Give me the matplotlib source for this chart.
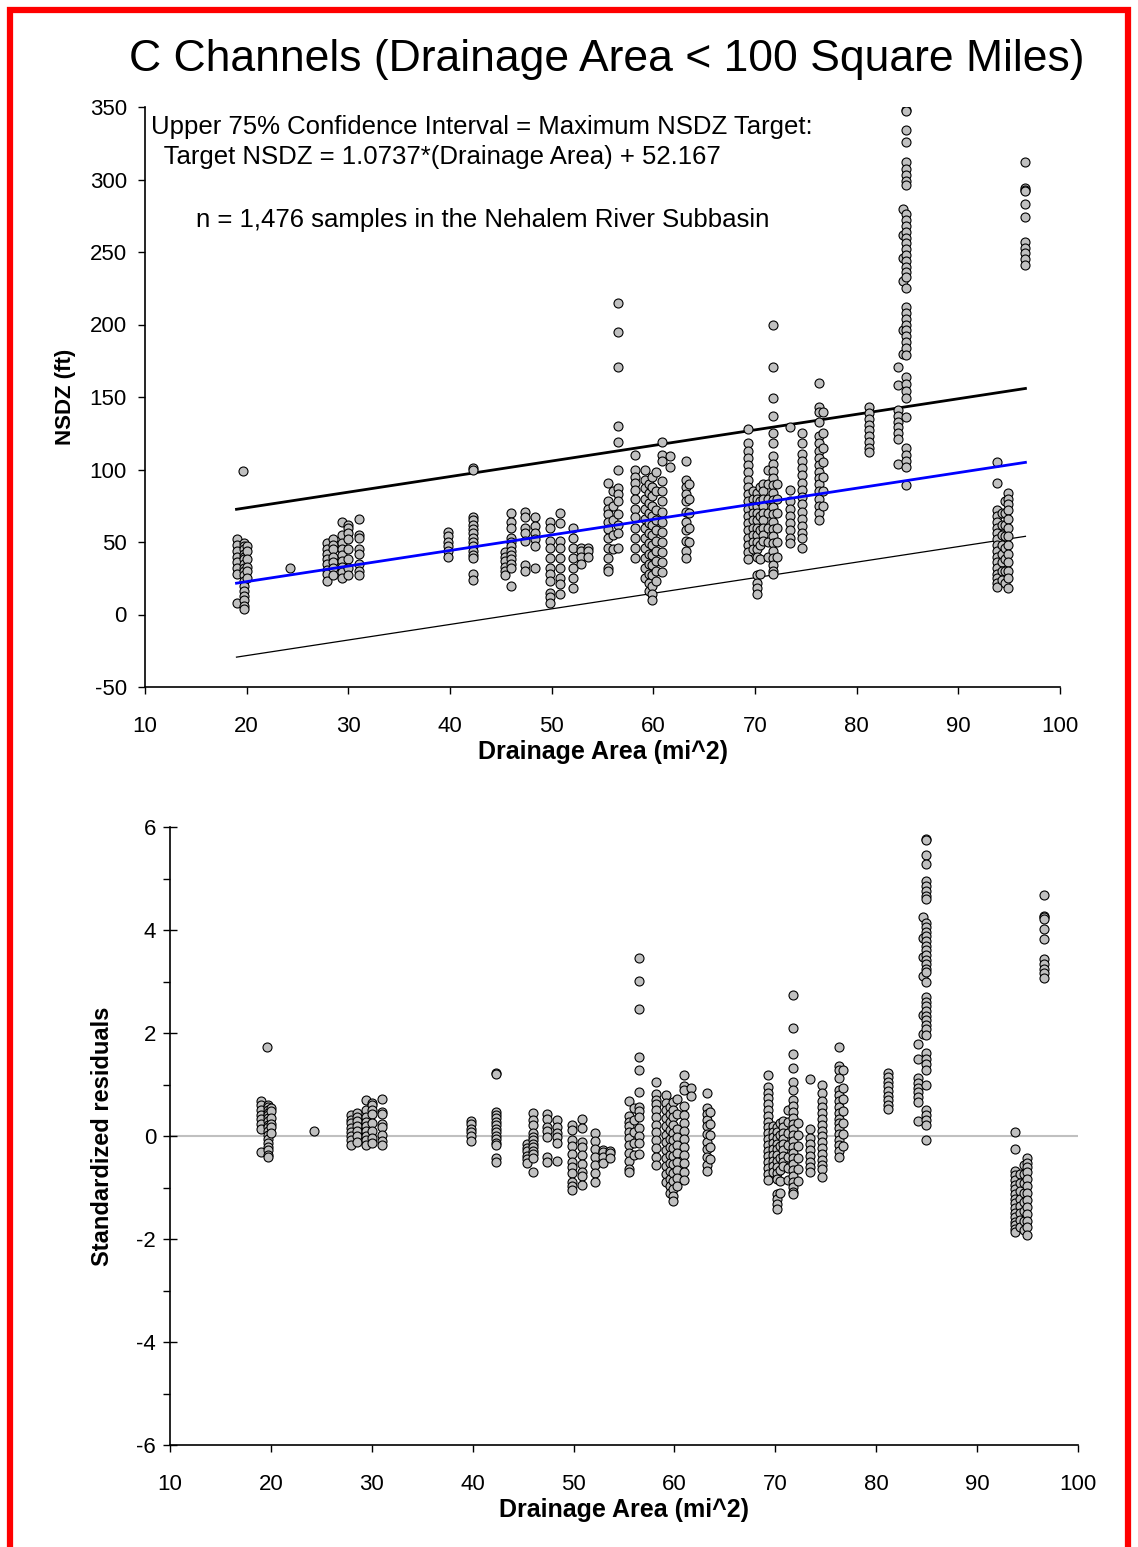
"""
NSDZ vs drainage area for C channels, with target line and standardized residuals.
"""

import numpy as np
import matplotlib
matplotlib.use("Agg")
import matplotlib.pyplot as plt
from matplotlib.patches import Rectangle
from matplotlib.ticker import MultipleLocator

plt.rcParams["font.family"] = ["Liberation Sans", "DejaVu Sans"]
plt.rcParams["axes.unicode_minus"] = False

# sampled reaches: drainage area (mi^2) and NSDZ readings (ft) at each
area_mi2 = [19.0, 19.7, 19.6, 20.0, 24.3, 27.9, 28.5, 29.4, 30.0, 31.0,
            39.8, 42.3, 45.4, 46.0, 47.4, 48.4, 49.8, 50.8, 52.1, 52.9,
            53.6, 55.5, 56.0, 56.5, 58.2, 59.2, 59.6, 59.9, 60.3, 60.9,
            61.6, 63.2, 63.5, 69.3, 69.8, 70.2, 70.5, 70.8, 71.3, 71.8,
            72.2, 73.4, 74.6, 76.3, 76.7, 81.2, 84.1, 84.6, 84.9, 93.8,
            94.3, 94.6, 94.9, 96.6]
nsdz_ft = [
    [52, 48, 44, 40, 36, 32, 28, 8],
    [49, 47, 45, 42, 40, 38, 35, 32, 30, 27, 23, 20, 16, 13, 10, 6, 4],
    [99],
    [47, 44, 38, 33, 30, 25],
    [32],
    [49, 45, 42, 38, 35, 31, 28, 23],
    [52, 48, 45, 40, 36, 32, 27],
    [64, 55, 49, 45, 41, 37, 33, 29, 25],
    [62, 60, 56, 52, 45, 38, 32, 27],
    [66, 55, 53, 45, 42, 35, 30, 27],
    [57, 54, 50, 47, 44, 40],
    [101, 100, 67, 65, 62, 59, 56, 53, 50, 47, 44, 41, 39, 28, 24],
    [43, 40, 37, 33, 30, 27],
    [70, 64, 60, 53, 50, 47, 44, 41, 38, 35, 32, 20],
    [71, 67, 60, 56, 51, 34, 30],
    [67, 61, 56, 52, 47, 32],
    [64, 60, 51, 46, 39, 32, 28, 23, 15, 12, 8],
    [70, 63, 51, 46, 39, 32, 25, 21, 14],
    [60, 53, 46, 39, 32, 25, 18],
    [46, 44, 40, 35],
    [46, 44, 40],
    [91, 78, 73, 69, 64, 59, 53, 46, 39, 32, 30],
    [85, 75, 65, 55, 45],
    [215, 195, 171, 130, 119, 100, 87, 83, 78, 69, 62, 56, 46],
    [110, 100, 95, 91, 86, 80, 73, 67, 60, 53, 46, 39],
    [100, 93, 87, 80, 73, 66, 60, 53, 46, 39, 32, 25],
    [90, 84, 77, 70, 63, 56, 49, 42, 35, 28, 22, 16],
    [95, 88, 82, 75, 68, 62, 55, 48, 41, 34, 27, 20, 14, 10],
    [98, 85, 72, 65, 58, 51, 44, 37, 30, 23],
    [119, 110, 106, 92, 85, 78, 71, 64, 57, 50, 43, 36, 29],
    [109, 102],
    [106, 93, 88, 83, 78, 71, 64, 58, 51, 44, 39],
    [90, 80, 70, 60, 50],
    [128, 118, 113, 108, 103, 98, 93, 88, 83, 78, 73, 68, 63, 58, 53, 48, 43, 38],
    [85, 80, 75, 70, 65, 60, 55, 50, 45],
    [84, 80, 75, 70, 65, 60, 55, 50, 45, 40, 27, 22, 18, 14],
    [88, 78, 68, 58, 48, 38, 28],
    [90, 85, 80, 75, 70, 65, 60, 55, 51],
    [100, 90, 80, 70, 60, 50, 40],
    [200, 171, 149, 137, 125, 118, 109, 104, 99, 94, 89, 84, 79, 74, 69, 64,
     59, 54, 49, 44, 39, 34, 30, 28],
    [90, 80, 70, 60, 50, 40],
    [129, 86, 78, 73, 68, 63, 58, 53, 49],
    [125, 118, 111, 106, 101, 96, 91, 86, 81, 76, 71, 66, 61, 56, 53, 46],
    [160, 143, 140, 133, 123, 118, 113, 108, 103, 98, 94, 90, 85, 80, 75, 70, 65],
    [140, 125, 115, 105, 95, 85, 75],
    [143, 139, 135, 131, 127, 123, 119, 115, 112],
    [171, 158, 141, 137, 133, 129, 125, 121, 104],
    [280, 262, 246, 230, 196, 180],
    [348, 347, 334, 326, 312, 307, 303, 299, 296, 276, 272, 268, 264, 260, 256,
     252, 248, 244, 240, 236, 233, 225, 212, 208, 204, 200, 196, 192, 188, 184,
     179, 164, 159, 154, 149, 136, 115, 110, 106, 102, 89],
    [105, 91, 72, 68, 64, 60, 56, 52, 48, 44, 40, 36, 32, 28, 25, 22, 19],
    [70, 62, 55, 48, 42, 36, 30, 24],
    [78, 70, 62, 54, 46, 38, 30, 22],
    [84, 80, 76, 72, 66, 60, 54, 48, 42, 36, 30, 25, 18],
    [312, 294, 293, 292, 283, 274, 257, 253, 249, 245, 241],
]

# regression and target lines
slope = 1.0737
fit_intercept = 1.2
upper_intercept = 52.167
lower_intercept = -49.8
resid_sd = 44.3
line_x = [19.0, 96.6]

x = np.concatenate([[a] * len(v) for a, v in zip(area_mi2, nsdz_ft)])
y = np.concatenate([np.asarray(v, float) for v in nsdz_ft])
std_resid = (y - (slope * x + fit_intercept)) / resid_sd

W, H = 1138, 1547
fig = plt.figure(figsize=(W / 100, H / 100), dpi=100)

# red frame round the page
fig.patches.append(Rectangle((10 / W, -0.02), (W - 20) / W, 1.02 - 10 / H,
                             transform=fig.transFigure, fill=False,
                             edgecolor="#ff0000", linewidth=4.5))

fig.text(607 / W, 1 - 60 / H, "C Channels (Drainage Area < 100 Square Miles)",
         ha="center", va="center", fontsize=32)

pt_style = dict(s=42, facecolor="#c0c0c0", edgecolor="black",
                linewidths=0.8, zorder=3)

# Panel 1: NSDZ vs drainage area
ax = fig.add_axes([145 / W, 1 - 687 / H, 915 / W, 580 / H])
lx = np.array(line_x)
ax.plot(lx, slope * lx + upper_intercept, color="black", linewidth=2.0, zorder=2)
ax.plot(lx, slope * lx + fit_intercept, color="#0000ff", linewidth=2.0, zorder=4)
ax.plot(lx, slope * lx + lower_intercept, color="black", linewidth=0.9, zorder=2)
ax.scatter(x, y, **pt_style)
ax.set_xlim(10, 100)
ax.set_ylim(-50, 350)
ax.xaxis.set_major_locator(MultipleLocator(10))
ax.yaxis.set_major_locator(MultipleLocator(50))
ax.tick_params(axis="x", direction="out", length=5, width=1, labelsize=16, pad=16)
ax.tick_params(axis="y", direction="out", length=5, width=1, labelsize=16, pad=8)
ax.set_xlabel("Drainage Area (mi^2)", fontsize=18, fontweight="bold", labelpad=2)
ax.set_ylabel("NSDZ (ft)", fontsize=16, fontweight="bold", labelpad=10)
ax.text(151 / W, 1 - 127 / H, "Upper 75% Confidence Interval = Maximum NSDZ Target:",
        transform=fig.transFigure, fontsize=18.5, va="center")
ax.text(157 / W, 1 - 157 / H, " Target NSDZ = 1.0737*(Drainage Area) + 52.167",
        transform=fig.transFigure, fontsize=18.5, va="center")
ax.text(196 / W, 1 - 220 / H, "n = 1,476 samples in the Nehalem River Subbasin",
        transform=fig.transFigure, fontsize=18.5, va="center")

# Panel 2: standardized residuals
ax2 = fig.add_axes([170 / W, 1 - 1445 / H, 908 / W, 618 / H])
ax2.axhline(0, color="#c0c0c0", linewidth=1.5, zorder=1)
ax2.scatter(x, std_resid, **pt_style)
ax2.set_xlim(10, 100)
ax2.set_ylim(-6, 6)
ax2.xaxis.set_major_locator(MultipleLocator(10))
ax2.yaxis.set_major_locator(MultipleLocator(2))
ax2.yaxis.set_minor_locator(MultipleLocator(1))
ax2.tick_params(axis="x", direction="out", length=5, width=1, labelsize=16, pad=16)
ax2.tick_params(axis="y", which="major", direction="inout", length=10, width=1,
                labelsize=16, pad=5)
ax2.tick_params(axis="y", which="minor", direction="out", length=5, width=1)
ax2.set_xlabel("Drainage Area (mi^2)", fontsize=18, fontweight="bold", labelpad=2)
ax2.set_ylabel("Standardized residuals", fontsize=17, fontweight="bold", labelpad=16)

for a in (ax, ax2):
    for side in ("top", "right"):
        a.spines[side].set_visible(False)
    for side in ("left", "bottom"):
        a.spines[side].set_linewidth(1.2)

fig.savefig("out.png", dpi=100)
